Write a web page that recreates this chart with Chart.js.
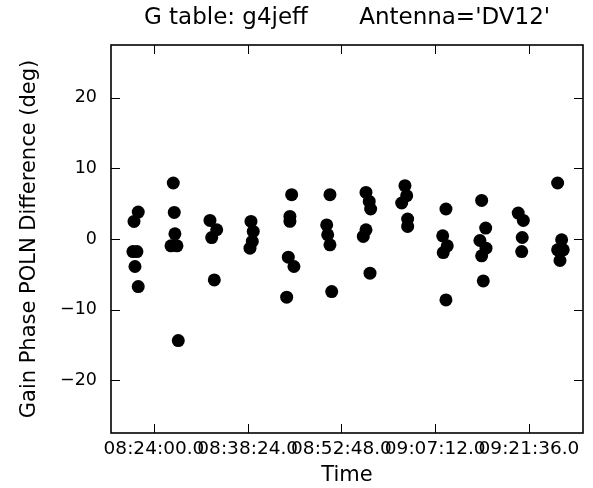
<!DOCTYPE html>
<html>
<head>
<meta charset="utf-8">
<script src="https://cdn.jsdelivr.net/npm/chart.js@4.4.1/dist/chart.umd.min.js"></script>
<style>
  html, body { margin: 0; padding: 0; background: #fff; }
  #wrap { width: 593px; height: 488px; position: relative; }
</style>
</head>
<body>
<div id="wrap"><canvas id="c" width="593" height="488"></canvas></div>
<script>
// ---- data ----
const chartTitle = "G table: g4jeff       Antenna='DV12'";
const xLabel = "Time";
const yLabel = "Gain Phase POLN Difference (deg)";

const times = [
  "08:20:56","08:21:35","08:20:46","08:21:23","08:21:05","08:21:35",
  "08:26:58","08:27:07","08:27:13","08:26:37","08:27:32","08:27:44",
  "08:32:36","08:33:38","08:32:52","08:33:16",
  "08:38:54","08:39:15","08:39:06","08:38:45",
  "08:45:09","08:44:53","08:44:53","08:44:38","08:45:30","08:44:23",
  "08:51:02","08:50:32","08:50:41","08:51:02","08:51:18",
  "08:56:34","08:57:04","08:57:17","08:56:34","08:56:09","08:57:11",
  "09:02:33","09:02:49","09:02:03","09:02:58","09:02:58",
  "09:08:51","09:08:21","09:09:03","09:08:26","09:08:51",
  "09:14:20","09:14:57","09:14:04","09:15:00","09:14:20","09:14:35",
  "09:19:57","09:20:44","09:20:34","09:20:29",
  "09:26:00","09:26:37","09:26:00","09:26:52","09:26:22"
];
const phaseDiff = [
  2.49, 3.82, -1.78, -1.78, -3.9, -6.75,
  7.94, 3.77, 0.74, -0.97, -0.97, -14.4,
  2.63, 1.31, 0.2, -5.8,
  2.49, 1.07, -0.35, -1.3,
  6.28, 3.2, 2.5, -2.57, -3.9, -8.25,
  6.28, 2.0, 0.6, -0.82, -7.45,
  6.6, 5.33, 4.25, 1.3, 0.36, -4.85,
  7.56, 6.14, 5.1, 2.83, 1.78,
  4.25, 0.45, -0.97, -1.92, -8.64,
  5.47, 1.55, -0.21, -1.3, -2.39, -5.94,
  3.68, 2.63, 0.21, -1.78,
  7.94, -0.11, -1.53, -1.53, -3.05
];
const xTickLabels = ["08:24:00.0","08:38:24.0","08:52:48.0","09:07:12.0","09:21:36.0"];
const yTickValues = [-20, -10, 0, 10, 20];
const xRange = ["08:17:24", "09:29:54"];
const yRange = [-27.5, 27.5];

// ---- helpers ----
function toSec(s) {
  const p = s.split(":").map(Number);
  return p[0] * 3600 + p[1] * 60 + p[2];
}
function fmt(sec) {
  const h = Math.floor(sec / 3600), m = Math.floor((sec % 3600) / 60), s = sec % 60;
  const pad = v => String(v).padStart(2, "0");
  return pad(h) + ":" + pad(m) + ":" + pad(Math.floor(s)) + ".0";
}
const points = times.map((t, i) => ({ x: toSec(t), y: phaseDiff[i] }));
const xTickValues = xTickLabels.map(l => toSec(l.slice(0, 8)));

const FONT = "'DejaVu Sans', sans-serif";

const framePlugin = {
  id: 'frame',
  afterDatasetsDraw(chart) {
    const { ctx, chartArea: a, scales } = chart;
    ctx.save();
    ctx.strokeStyle = '#000';
    ctx.lineWidth = 1;
    const L = 9;
    ctx.beginPath();
    xTickValues.forEach(v => {
      const px = Math.round(scales.x.getPixelForValue(v)) + 0.5;
      ctx.moveTo(px, a.bottom); ctx.lineTo(px, a.bottom - L);
      ctx.moveTo(px, a.top); ctx.lineTo(px, a.top + L);
    });
    yTickValues.forEach(v => {
      const py = Math.round(scales.y.getPixelForValue(v)) + 0.5;
      ctx.moveTo(a.left, py); ctx.lineTo(a.left + L, py);
      ctx.moveTo(a.right, py); ctx.lineTo(a.right - L, py);
    });
    ctx.stroke();
    ctx.lineWidth = 1.6;
    ctx.strokeRect(a.left, a.top, a.right - a.left, a.bottom - a.top);
    // title centred over the plot area
    ctx.fillStyle = '#000';
    ctx.font = "23px " + FONT;
    ctx.textAlign = 'center';
    ctx.textBaseline = 'middle';
    ctx.fillText(chartTitle, (a.left + a.right) / 2, 18);
    ctx.restore();
  }
};

new Chart(document.getElementById('c'), {
  type: 'scatter',
  data: {
    datasets: [{
      data: points,
      pointRadius: 6.5,
      pointHoverRadius: 6.5,
      backgroundColor: '#000',
      borderWidth: 0
    }]
  },
  options: {
    responsive: false,
    animation: false,
    layout: { padding: { left: 0, right: 10, top: 45, bottom: 0 } },
    plugins: {
      legend: { display: false },
      tooltip: { enabled: false },
      title: { display: false }
    },
    scales: {
      x: {
        type: 'linear',
        min: toSec(xRange[0]),
        max: toSec(xRange[1]),
        afterBuildTicks(scale) { scale.ticks = xTickValues.map(v => ({ value: v })); },
        afterFit(scale) { scale.height = 55; },
        grid: { display: false, drawTicks: false },
        border: { display: false },
        ticks: {
          autoSkip: false, maxRotation: 0, minRotation: 0,
          color: '#000', padding: 5,
          font: { family: FONT, size: 18.5 },
          callback: v => fmt(v)
        },
        title: {
          display: true, text: xLabel, color: '#000',
          font: { family: FONT, size: 21 },
          padding: { top: 0, bottom: 0 }
        }
      },
      y: {
        min: yRange[0],
        max: yRange[1],
        afterBuildTicks(scale) { scale.ticks = yTickValues.map(v => ({ value: v })); },
        afterFit(scale) { scale.width = 111; },
        grid: { display: false, drawTicks: false },
        border: { display: false },
        ticks: {
          color: '#000', padding: 14,
          font: { family: FONT, size: 17.5 },
          callback: v => (v < 0 ? '\u2212' + Math.abs(v) : String(v))
        },
        title: {
          display: true, text: yLabel, color: '#000',
          font: { family: FONT, size: 21 },
          padding: { top: 17, bottom: 0 }
        }
      }
    }
  },
  plugins: [framePlugin]
});
</script>
</body>
</html>
